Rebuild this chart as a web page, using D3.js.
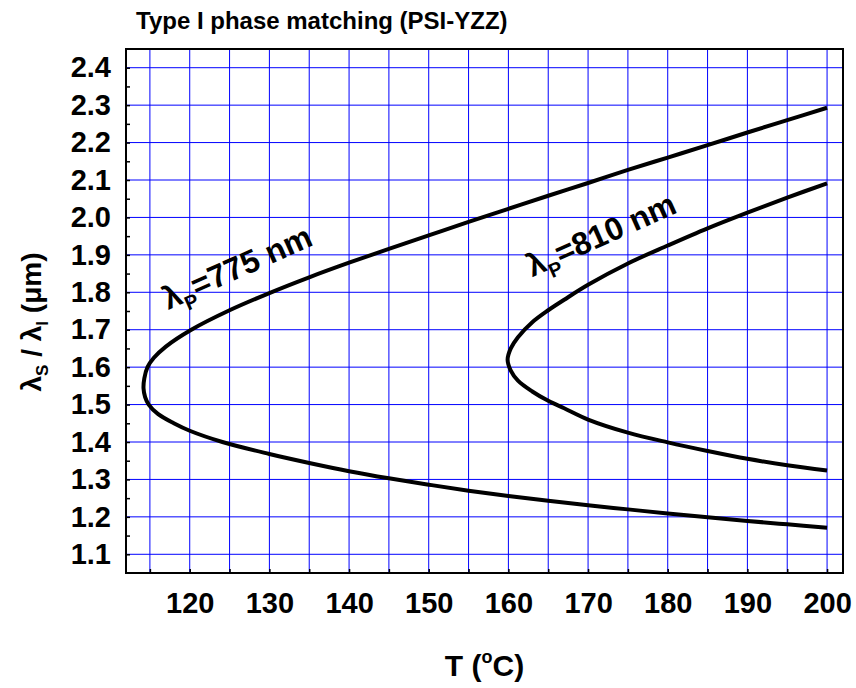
<!DOCTYPE html>
<html>
<head>
<meta charset="utf-8">
<script src="https://cdnjs.cloudflare.com/ajax/libs/d3/7.8.5/d3.min.js"></script>
<style>
  body { margin: 0; background: #fff; }
  text { font-family: "Liberation Sans", Arial, sans-serif; font-weight: bold; fill: #000; }
  .tick-label text { font-size: 29px; }
</style>
</head>
<body>
<script>
// Type I phase matching chart, drawn with D3 v7

// ---- data ----
var titleText = "Type I phase matching (PSI-YZZ)";

var xLabels = [120, 130, 140, 150, 160, 170, 180, 190, 200];
var xGrid = [115, 120, 125, 130, 135, 140, 145, 150, 155, 160, 165, 170, 175, 180, 185, 190, 195, 200];
var yLabels = [1.1, 1.2, 1.3, 1.4, 1.5, 1.6, 1.7, 1.8, 1.9, 2.0, 2.1, 2.2, 2.3, 2.4];
var yMinor = [1.15, 1.25, 1.35, 1.45, 1.55, 1.65, 1.75, 1.85, 1.95, 2.05, 2.15, 2.25, 2.35];

// lambda_p = 775 nm : temperature (C) and signal/idler wavelength (um), along the curve
var temp775 = [200, 195, 190, 185, 180, 175, 170, 165, 160, 155, 150, 145, 140, 135, 130, 125,
               120.2, 117, 115.5, 114.7, 114.3, 114.2, 114.4, 114.85, 116, 118, 120, 124.1,
               130, 135, 140, 145, 150, 155, 160, 165, 170, 175, 180, 185, 190, 195, 200];
var lam775 = [2.293, 2.26, 2.227, 2.193, 2.16, 2.127, 2.092, 2.058, 2.023, 1.988, 1.952, 1.916, 1.879, 1.84, 1.798, 1.752,
              1.70, 1.655, 1.625, 1.60, 1.57, 1.543, 1.52, 1.50, 1.475, 1.45, 1.43, 1.40,
              1.368, 1.344, 1.322, 1.303, 1.286, 1.27, 1.256, 1.243, 1.231, 1.22, 1.209, 1.199, 1.189, 1.18, 1.171];

// lambda_p = 810 nm
var temp810 = [200, 195, 190, 185, 180, 175, 170, 167, 165, 163, 161.2, 160.3, 159.9,
               160.3, 161.2, 163, 165, 167, 170, 175, 180, 185, 190, 195, 200];
var lam810 = [2.091, 2.053, 2.013, 1.971, 1.925, 1.877, 1.82, 1.78, 1.752, 1.72, 1.68, 1.65, 1.62,
              1.591, 1.564, 1.535, 1.51, 1.49, 1.46, 1.425, 1.399, 1.376, 1.355, 1.338, 1.324];

var curves = [
  {name: "775", values: temp775.map((t, i) => ({T: t, lam: lam775[i]}))},
  {name: "810", values: temp810.map((t, i) => ({T: t, lam: lam810[i]}))}
];

// ---- layout ----
var margin = {top: 49, right: 13, bottom: 115, left: 126},
    width = 856 - margin.left - margin.right,
    height = 688 - margin.top - margin.bottom;

var xScale = d3.scaleLinear().domain([112, 202]).range([0, width]),
    yScale = d3.scaleLinear().domain([1.05, 2.45]).range([height, 0]);

var root = d3.select("body").append("svg")
             .attr("width", 856)
             .attr("height", 688);

var svg = root.append("g")
              .attr("transform", "translate(" + margin.left + "," + margin.top + ")");

// blue grid
var grid = svg.append("g").attr("class", "grid");

grid.selectAll(".vline")
    .data(xGrid)
    .join("line")
    .attr("class", "vline")
    .attr("x1", d => xScale(d)).attr("x2", d => xScale(d))
    .attr("y1", 0).attr("y2", height)
    .style("stroke", "#0000ff")
    .style("stroke-width", 1);

grid.selectAll(".hline")
    .data(yLabels)
    .join("line")
    .attr("class", "hline")
    .attr("x1", 0).attr("x2", width)
    .attr("y1", d => yScale(d)).attr("y2", d => yScale(d))
    .style("stroke", "#0000ff")
    .style("stroke-width", 1);

// inward tick marks
var xAxisTicks = d3.axisBottom(xScale).tickValues(xGrid).tickSize(-4).tickFormat(""),
    yAxisMinor = d3.axisLeft(yScale).tickValues(yMinor.concat(yLabels)).tickSize(-4).tickFormat("");

svg.append("g")
   .attr("transform", "translate(0," + height + ")")
   .call(xAxisTicks)
   .call(g => g.select(".domain").remove())
   .selectAll("line").style("stroke", "#000").style("stroke-width", 1.5);

svg.append("g")
   .call(yAxisMinor)
   .call(g => g.select(".domain").remove())
   .selectAll("line").style("stroke", "#000").style("stroke-width", 1.5);

// tick labels
var xAxis = d3.axisBottom(xScale).tickValues(xLabels).tickSize(0).tickPadding(19).tickFormat(d3.format("d")),
    yAxis = d3.axisLeft(yScale).tickValues(yLabels).tickSize(0).tickPadding(15).tickFormat(d3.format(".1f"));

svg.append("g")
   .attr("class", "tick-label")
   .attr("transform", "translate(0," + height + ")")
   .call(xAxis)
   .call(g => g.attr("font-size", null).attr("font-family", null))
   .call(g => g.select(".domain").remove());

svg.append("g")
   .attr("class", "tick-label")
   .call(yAxis)
   .call(g => g.attr("font-size", null).attr("font-family", null))
   .call(g => g.select(".domain").remove());

// frame
svg.append("rect")
   .attr("width", width)
   .attr("height", height)
   .style("fill", "none")
   .style("stroke", "#000")
   .style("stroke-width", 2);

// curves
var line = d3.line()
    .x(d => xScale(d.T))
    .y(d => yScale(d.lam))
    .curve(d3.curveCatmullRom.alpha(0.5));

svg.selectAll(".curve")
   .data(curves)
   .join("path")
   .attr("class", "curve")
   .attr("d", d => line(d.values))
   .style("fill", "none")
   .style("stroke", "#000")
   .style("stroke-width", 4);

// curve labels: lambda_P = ...
function curveLabel(T, lam, angle, value) {
  var t = svg.append("text")
             .attr("transform", "translate(" + xScale(T) + "," + yScale(lam) + ") rotate(" + angle + ")")
             .style("font-size", "32px");
  t.append("tspan").text("\u03bb");
  t.append("tspan").attr("dy", 9).style("font-size", "20px").text("P");
  t.append("tspan").attr("dy", -9).text("=" + value + " nm");
}
curveLabel(117.3, 1.753, -24, "775");
curveLabel(163.0, 1.84, -24, "810");

// title
root.append("text")
    .attr("x", 136)
    .attr("y", 29)
    .style("font-size", "24px")
    .text(titleText);

// x axis title: T (oC)
var xt = root.append("text")
             .attr("x", margin.left + width / 2)
             .attr("y", 676)
             .attr("text-anchor", "middle")
             .style("font-size", "30px");
xt.append("tspan").text("T (");
xt.append("tspan").attr("dy", -13).style("font-size", "18px").text("o");
xt.append("tspan").attr("dy", 13).text("C)");

// y axis title: lambda_S / lambda_I (um)
var yt = root.append("text")
             .attr("transform", "translate(41," + 322 + ") rotate(-90)")
             .attr("text-anchor", "middle")
             .style("font-size", "28px");
yt.append("tspan").text("\u03bb");
yt.append("tspan").attr("dy", 7).style("font-size", "17px").text("S");
yt.append("tspan").attr("dy", -7).text(" / \u03bb");
yt.append("tspan").attr("dy", 7).style("font-size", "17px").text("I");
yt.append("tspan").attr("dy", -7).text(" (\u03bcm)");
</script>
</body>
</html>
